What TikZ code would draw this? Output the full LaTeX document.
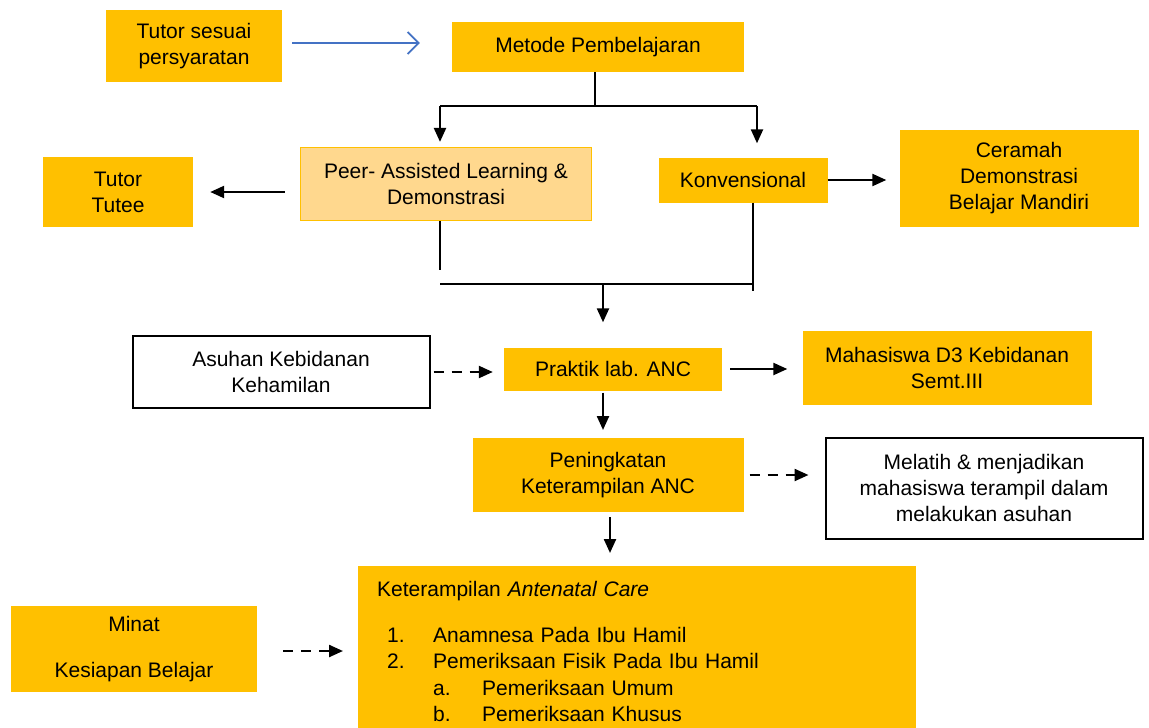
\documentclass[tikz,border=0pt]{standalone}
\usepackage{fontspec}
\setmainfont{Liberation Sans}
\usetikzlibrary{arrows.meta}
\definecolor{gold}{HTML}{FFC000}
\definecolor{lightgold}{HTML}{FFD88E}
\definecolor{arrowblue}{HTML}{4472C4}
\tikzset{every node/.style={font=\fontsize{21}{26}\selectfont, align=center, inner sep=0pt},
  box/.style={fill=gold},
  lightbox/.style={fill=lightgold, draw=gold, line width=1.2pt},
  whitebox/.style={fill=white, draw=black, line width=2pt},
  branch/.style={black, line width=1.3pt},
  link/.style={black, line width=2.3pt, -{Triangle[length=14pt,width=12pt]}},
  dlink/.style={link, dash pattern=on 10pt off 8pt},
  bluelink/.style={arrowblue, line width=1.8pt, -{Straight Barb[length=11pt,width=22pt,line width=1.8pt]}}}

\begin{document}
\begin{tikzpicture}[x=1pt, y=-1pt]
   \useasboundingbox[fill=white] (0,0) rectangle (1149,728);
   % top row
   \node[box, minimum width=176pt, minimum height=72pt] (tutor) at (194,46) {Tutor sesuai\\persyaratan};
   \node[box, minimum width=292pt, minimum height=50pt] (metode) at (598,47) {Metode Pembelajaran};
   \draw[bluelink, shorten <=10pt, shorten >=32pt] (tutor.east) ++(0,-3) -- (metode.west |- 0,43);
   % methods
   \node[lightbox, minimum width=291pt, minimum height=73pt] (peer) at (446,184) {Peer- Assisted Learning \&\\Demonstrasi};
   \node[box, minimum width=150pt, minimum height=70pt] (tutee) at (118,192) {Tutor\\Tutee};
   \node[box, minimum width=169pt, minimum height=45pt] (konv) at (743,180) {Konvensional};
   \node[box, minimum width=239pt, minimum height=97pt] (ceramah) at (1019,178) {Ceramah\\Demonstrasi\\Belajar Mandiri};
   \coordinate (splitl) at (440,106);
   \coordinate (splitr) at (757,106);
   \draw[branch] (metode.south -| 595,0) -- (595,106);
   \draw[branch] (splitl) -- (splitr);
   \draw[link, shorten >=5pt] (splitl) -- (splitl |- peer.north);
   \draw[link, shorten >=14pt] (splitr) -- (splitr |- konv.north);
   \draw[link, shorten <=15pt, shorten >=17pt] (peer.west |- tutee) -- (tutee.east);
   \draw[link, shorten >=13pt] (konv.east) -- (ceramah.west |- konv.east);
   % merge
   \coordinate (joinl) at (440,284);
   \coordinate (joinr) at (753,284);
   \coordinate (join) at (603,284);
   \draw[branch] (joinl |- peer.south) -- ++(0,49);
   \draw[branch] (joinr |- konv.south) -- ++(0,88);
   \draw[branch] (joinl) -- (joinr);
   % practice
   \node[whitebox, minimum width=297pt, minimum height=72pt] (asuhan) at (281,372) {Asuhan Kebidanan\\Kehamilan};
   \node[box, minimum width=218pt, minimum height=43pt] (praktik) at (613,369) {Praktik lab. ANC};
   \node[box, minimum width=289pt, minimum height=74pt] (mhs) at (947,368) {Mahasiswa D3 Kebidanan\\Semt.III};
   \draw[link, shorten >=25pt] (join) -- (join |- praktik.north);
   \draw[dlink, shorten <=3pt, shorten >=11pt] (asuhan.east) -- (praktik.west |- asuhan.east);
   \draw[link, shorten <=8pt, shorten >=15pt] (praktik.east) -- (mhs.west |- praktik.east);
   % skills
   \node[box, minimum width=271pt, minimum height=74pt] (naik) at (608,475) {Peningkatan\\Keterampilan ANC};
   \node[whitebox, minimum width=317pt, minimum height=101pt] (melatih) at (984,488) {Melatih \& menjadikan\\mahasiswa terampil dalam\\melakukan asuhan};
   \draw[link, shorten <=2pt, shorten >=8pt] (praktik.south -| 603,0) -- (603,438);
   \draw[dlink, shorten <=6pt, shorten >=16pt] (naik.east) -- (melatih.west |- naik.east);
   % bottom
   \node[box, anchor=north west, minimum width=558pt, inner xsep=19pt, inner ysep=15pt, text width=520pt, align=left,
     font=\fontsize{21}{26.5}\selectfont] (anc) at (358,566)
     {Keterampilan \textit{Antenatal Care}\\[19.5pt]
      \hspace*{10pt}\makebox[46pt][l]{1.}Anamnesa Pada Ibu Hamil\\
      \hspace*{10pt}\makebox[46pt][l]{2.}Pemeriksaan Fisik Pada Ibu Hamil\\
      \hspace*{56pt}\makebox[49pt][l]{a.}Pemeriksaan Umum\\
      \hspace*{56pt}\makebox[49pt][l]{b.}Pemeriksaan Khusus};
   \node[box, minimum width=246pt, minimum height=86pt] (minat) at (134,649) {Minat\\[20pt]Kesiapan Belajar};
   \draw[link, shorten <=5pt, shorten >=13pt] (naik.south -| 610,0) -- (610,566);
   \draw[dlink, shorten <=26pt, shorten >=15pt] (minat.east |- 0,651) -- (anc.west |- 0,651);
\end{tikzpicture}
\end{document}
